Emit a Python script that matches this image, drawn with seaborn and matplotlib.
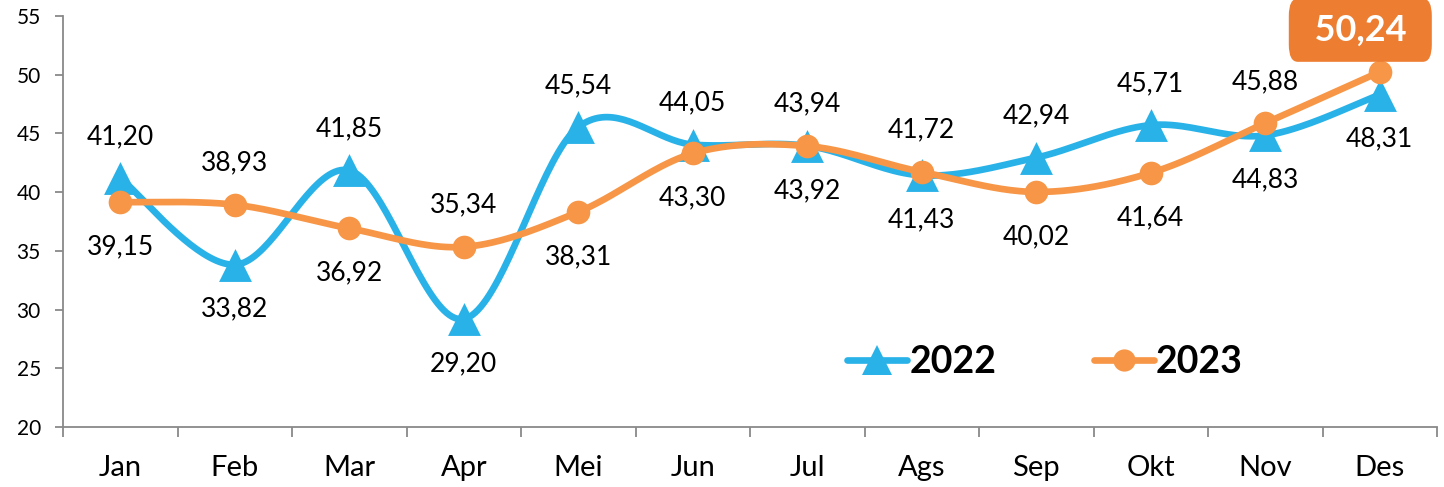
import numpy as np
import pandas as pd
import matplotlib
matplotlib.use("Agg")
import matplotlib.pyplot as plt
import seaborn as sns
from matplotlib.lines import Line2D

months = ["Jan", "Feb", "Mar", "Apr", "Mei", "Jun", "Jul", "Ags", "Sep", "Okt", "Nov", "Des"]
v2022 = [41.20, 33.82, 41.85, 29.20, 45.54, 44.05, 43.94, 41.43, 42.94, 45.71, 44.83, 48.31]
v2023 = [39.15, 38.93, 36.92, 35.34, 38.31, 43.30, 43.92, 41.72, 40.02, 41.64, 45.88, 50.24]
series_names = ["2022", "2023"]
yticks = [20, 25, 30, 35, 40, 45, 50, 55]

BLUE = "#29B2E8"
ORANGE = "#F79646"
BOX = "#ED7D31"
GRAY = "#898989"

sns.set_theme(style="white")
plt.rcParams["font.family"] = ["Lato", "DejaVu Sans"]


def smooth(xs, ys, n=40):
    """Excel-like Bezier smoothing of a polyline (rendering only)."""
    P = np.column_stack([xs, ys]).astype(float)
    out = []
    for i in range(len(P) - 1):
        p0 = P[i - 1] if i > 0 else P[i]
        p1 = P[i]
        p2 = P[i + 1]
        p3 = P[i + 2] if i + 2 < len(P) else P[i + 1]
        c1 = p1 + (p2 - p0) / 6
        c2 = p2 - (p3 - p1) / 6
        t = np.linspace(0, 1, n, endpoint=(i == len(P) - 2))[:, None]
        seg = (1 - t) ** 3 * p1 + 3 * (1 - t) ** 2 * t * c1 + 3 * (1 - t) * t ** 2 * c2 + t ** 3 * p2
        out.append(seg)
    return np.vstack(out)


fig = plt.figure(figsize=(14.44, 4.87), dpi=100)
ax = fig.add_axes([63 / 1444, 60 / 487, (1437 - 63) / 1444, (427 - 16) / 487])

xpos = np.arange(len(months))
styles = [
    (series_names[0], v2022, BLUE, "^", 560),
    (series_names[1], v2023, ORANGE, "o", 290),
]
z = 2
for name, vals, col, mk, ms in styles:
    curve = smooth(xpos, vals)
    cdf = pd.DataFrame({"x": curve[:, 0], "y": curve[:, 1]})
    sns.lineplot(data=cdf, x="x", y="y", sort=False, estimator=None, ax=ax,
                 color=col, linewidth=4.8, zorder=z, solid_capstyle="round")
    pdf = pd.DataFrame({"x": xpos, "y": vals})
    sns.scatterplot(data=pdf, x="x", y="y", ax=ax, color=col, marker=mk, s=ms,
                    linewidth=0, zorder=z + 1)
    z += 2

# data labels
for i in range(len(months)):
    for vals, other in ((v2022, v2023), (v2023, v2022)):
        v = vals[i]
        o = other[i]
        txt = f"{v:.2f}".replace(".", ",")
        if vals is v2023 and i == len(months) - 1:
            ax.annotate("  " + txt + "  ", (i, v), xytext=(-14, 30), textcoords="offset points",
                        ha="center", va="center", fontsize=26, fontweight="bold",
                        color="white", zorder=10,
                        bbox=dict(boxstyle="round,pad=0.22,rounding_size=0.25",
                                  fc=BOX, ec="none", mutation_aspect=1.9))
            continue
        dy = 30 if v >= o else -32
        ax.annotate(txt, (i, v), xytext=(0, dy), textcoords="offset points",
                    ha="center", va="center", fontsize=19, color="black", zorder=9)

ax.set_xlim(-0.5, len(months) - 0.5)
ax.set_ylim(20, 55)
ax.set_yticks(yticks)
ax.set_yticklabels([str(t) for t in yticks], fontsize=15, color="black")
ax.set_xticks(np.arange(-0.5, len(months), 1))
ax.set_xticklabels([""] * (len(months) + 1))
ax.set_xticks(xpos, minor=True)
ax.set_xticklabels(months, minor=True, fontsize=21, color="black")
ax.tick_params(axis="x", which="major", length=7, width=1.3, color=GRAY, direction="out", bottom=True)
ax.tick_params(axis="x", which="minor", length=0, pad=20, bottom=True)
ax.tick_params(axis="y", which="major", length=6, width=1.3, color=GRAY, direction="out", left=True, pad=10)
ax.set_xlabel("")
ax.set_ylabel("")
for s in ["top", "right"]:
    ax.spines[s].set_visible(False)
for s in ["left", "bottom"]:
    ax.spines[s].set_color(GRAY)
    ax.spines[s].set_linewidth(1.3)

handles = [
    Line2D([], [], color=BLUE, lw=4.8, marker="^", markersize=22, markeredgewidth=0, solid_capstyle="round"),
    Line2D([], [], color=ORANGE, lw=4.8, marker="o", markersize=16, markeredgewidth=0, solid_capstyle="round"),
]
fig.legend(handles, series_names, loc="center", bbox_to_anchor=(1045 / 1444, 1 - 362 / 487),
           ncol=2, frameon=False, prop={"weight": "bold", "size": 27}, labelcolor="black",
           handlelength=1.6, handletextpad=0.05, columnspacing=2.6)

fig.savefig("out.png", dpi=100)
